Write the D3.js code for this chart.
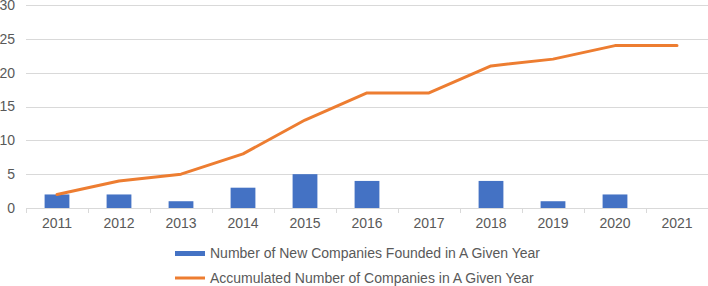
<!DOCTYPE html>
<html>
<head>
<meta charset="utf-8">
<script src="https://cdn.jsdelivr.net/npm/d3@7"></script>
<style>
  body { margin: 0; background: #fff; }
  text { font-family: "Liberation Sans", Arial, sans-serif; fill: #595959; }
</style>
</head>
<body>
<svg id="chart" width="708" height="286"></svg>
<script>
var years = ["2011","2012","2013","2014","2015","2016","2017","2018","2019","2020","2021"];
var newCompanies = [2, 2, 1, 3, 5, 4, 0, 4, 1, 2, 0];
var accumulated = [2, 4, 5, 8, 13, 17, 17, 21, 22, 24, 24];
var yTicks = [0, 5, 10, 15, 20, 25, 30];
var seriesNames = ["Number of New Companies Founded in A Given Year",
                   "Accumulated Number of Companies in A Given Year"];

var svg = d3.select("#chart"),
    plotLeft = 26,
    plotRight = 708,
    plotTop = 5,
    plotBottom = 208;

var x = d3.scaleBand().domain(years).range([plotLeft, plotRight]);
var y = d3.scaleLinear().domain([0, 30]).range([plotBottom, plotTop]);

// grid lines
svg.append("g")
  .selectAll("line").data(yTicks.filter(function(d) { return d > 0; })).enter().append("line")
  .attr("x1", plotLeft).attr("x2", plotRight)
  .attr("y1", function(d) { return Math.round(y(d)) + 0.5; })
  .attr("y2", function(d) { return Math.round(y(d)) + 0.5; })
  .attr("stroke", "#d9d9d9")
  .attr("stroke-width", 1);

// y labels
svg.append("g")
  .selectAll("text").data(yTicks).enter().append("text")
  .attr("x", 15)
  .attr("y", function(d) { return y(d); })
  .attr("dy", "0.35em")
  .attr("text-anchor", "end")
  .style("font-size", "14px")
  .text(function(d) { return d; });

// bars
var barW = x.bandwidth() * 0.4;
svg.append("g")
  .selectAll("rect").data(newCompanies).enter().append("rect")
  .attr("x", function(d, i) { return x(years[i]) + (x.bandwidth() - barW) / 2; })
  .attr("y", function(d) { return y(d); })
  .attr("width", barW)
  .attr("height", function(d) { return plotBottom - y(d); })
  .attr("fill", "#4472c4");

// x axis line and ticks
var xAxis = svg.append("g").attr("stroke", "#d9d9d9");
xAxis.append("line")
  .attr("x1", plotLeft).attr("x2", plotRight)
  .attr("y1", plotBottom + 0.5).attr("y2", plotBottom + 0.5);
xAxis.selectAll("line.tick").data(years.concat(["end"])).enter().append("line")
  .attr("class", "tick")
  .attr("x1", function(d, i) { return Math.round(plotLeft + i * x.step()) + 0.5; })
  .attr("x2", function(d, i) { return Math.round(plotLeft + i * x.step()) + 0.5; })
  .attr("y1", plotBottom).attr("y2", plotBottom + 5);

svg.append("g")
  .selectAll("text").data(years).enter().append("text")
  .attr("x", function(d) { return x(d) + x.bandwidth() / 2; })
  .attr("y", 228)
  .attr("text-anchor", "middle")
  .style("font-size", "14px")
  .text(function(d) { return d; });

// line
var line = d3.line()
  .x(function(d, i) { return x(years[i]) + x.bandwidth() / 2; })
  .y(function(d) { return y(d); });

svg.append("path")
  .datum(accumulated)
  .attr("d", line)
  .attr("fill", "none")
  .attr("stroke", "#ed7d31")
  .attr("stroke-width", 3)
  .attr("stroke-linecap", "round")
  .attr("stroke-linejoin", "round");

// legend
var legend = svg.append("g");
legend.append("rect")
  .attr("x", 175).attr("y", 251).attr("width", 30).attr("height", 5)
  .attr("fill", "#4472c4");
legend.append("line")
  .attr("x1", 175).attr("x2", 205).attr("y1", 278).attr("y2", 278)
  .attr("stroke", "#ed7d31").attr("stroke-width", 3);
legend.selectAll("text").data(seriesNames).enter().append("text")
  .attr("x", 210)
  .attr("y", function(d, i) { return 253 + i * 25; })
  .attr("dy", "0.35em")
  .style("font-size", "14px")
  .text(function(d) { return d; });
</script>
</body>
</html>
